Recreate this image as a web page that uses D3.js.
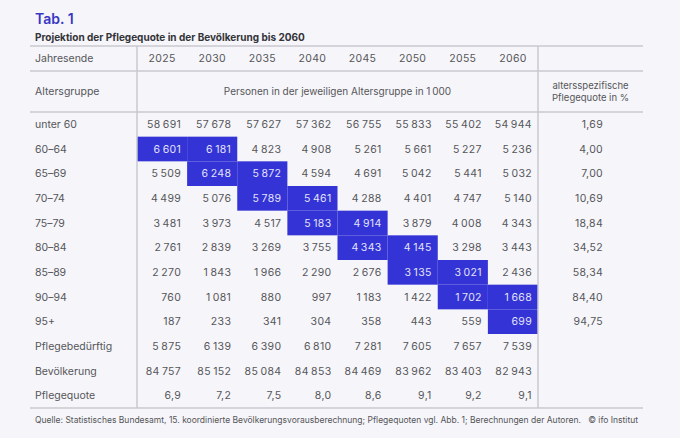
<!DOCTYPE html>
<html>
<head>
<meta charset="utf-8">
<script src="https://cdn.jsdelivr.net/npm/d3@7"></script>
<style>
  body { margin: 0; background: #f5f5fa; }
  svg { display: block; font-family: Inter, "Liberation Sans", sans-serif; }
</style>
</head>
<body>
<svg id="chart" width="680" height="438"></svg>
<script>
// values in 1 000 persons
const years = [2025, 2030, 2035, 2040, 2045, 2050, 2055, 2060];
const ageGroups = ["unter 60", "60–64", "65–69", "70–74", "75–79", "80–84", "85–89", "90–94", "95+"];
const population = [
  [58691, 57678, 57627, 57362, 56755, 55833, 55402, 54944],
  [6601, 6181, 4823, 4908, 5261, 5661, 5227, 5236],
  [5509, 6248, 5872, 4594, 4691, 5042, 5441, 5032],
  [4499, 5076, 5789, 5461, 4288, 4401, 4747, 5140],
  [3481, 3973, 4517, 5183, 4914, 3879, 4008, 4343],
  [2761, 2839, 3269, 3755, 4343, 4145, 3298, 3443],
  [2270, 1843, 1966, 2290, 2676, 3135, 3021, 2436],
  [760, 1081, 880, 997, 1183, 1422, 1702, 1668],
  [187, 233, 341, 304, 358, 443, 559, 699]
];
const careRate = [1.69, 4.00, 7.00, 10.69, 18.84, 34.52, 58.34, 84.40, 94.75];
const careNeeding = [5875, 6139, 6390, 6810, 7281, 7605, 7657, 7539];
const totalPopulation = [84757, 85152, 85084, 84853, 84469, 83962, 83403, 82943];
const careQuota = [6.9, 7.2, 7.5, 8.0, 8.6, 9.1, 9.2, 9.1];
// cohort 60–64 in 2025 moving through the age groups
const highlighted = [
  ["60–64", 2025], ["60–64", 2030], ["65–69", 2030], ["65–69", 2035],
  ["70–74", 2035], ["70–74", 2040], ["75–79", 2040], ["75–79", 2045],
  ["80–84", 2045], ["80–84", 2050], ["85–89", 2050], ["85–89", 2055],
  ["90–94", 2055], ["90–94", 2060], ["95+", 2060]
];

const de = d3.formatLocale({decimal: ",", thousands: "\u2009", grouping: [3], currency: ["", " €"]});
const fInt = de.format(",d");
const f1 = de.format(",.1f");
const f2 = de.format(",.2f");

const rowLabels = [...ageGroups, "Pflegebedürftig", "Bevölkerung", "Pflegequote"];
const rows = [
  ...population.map(d => d.map(fInt)),
  careNeeding.map(fInt),
  totalPopulation.map(fInt),
  careQuota.map(f1)
];

const svg = d3.select("#chart");
const textColor = "#565659";
const lineColor = "#c9c9cf";
const blue = "#3333d6";

const tLeft = 30, tRight = 643, split = 137, rateSplit = 538;
const tTop = 46, headBottom = 71, subBottom = 112, tBottom = 408;

const x = d3.scaleBand().domain(years).range([split, rateSplit]);
const y = d3.scaleBand().domain(rowLabels).range([subBottom, tBottom]);

// title
svg.append("text")
    .attr("x", 35).attr("y", 24)
    .attr("fill", "#3838c4")
    .attr("font-size", 14).attr("font-weight", 600)
    .text("Tab. 1");

svg.append("text")
    .attr("x", 35).attr("y", 41)
    .attr("fill", "#333338")
    .attr("font-size", 10).attr("font-weight", 700)
    .text("Projektion der Pflegequote in der Bevölkerung bis 2060");

// highlighted cohort cells
svg.append("g")
  .selectAll("rect")
  .data(highlighted)
  .join("rect")
    .attr("x", d => x(d[1]))
    .attr("y", d => y(d[0]))
    .attr("width", x.bandwidth())
    .attr("height", y.bandwidth())
    .attr("fill", blue);

// lines
const lines = svg.append("g").attr("stroke", lineColor).attr("stroke-width", 1.5);
[tTop, headBottom, subBottom, tBottom].forEach(v => {
  lines.append("line").attr("x1", tLeft).attr("x2", tRight).attr("y1", v).attr("y2", v);
});
[split, rateSplit].forEach(v => {
  lines.append("line").attr("x1", v).attr("x2", v).attr("y1", tTop).attr("y2", tBottom);
});

const txt = svg.append("g").attr("fill", textColor).attr("font-size", 10.5);

// header
txt.append("text").attr("x", 35).attr("y", (tTop + headBottom) / 2).attr("dy", "0.35em").text("Jahresende");
txt.selectAll(".year")
  .data(years)
  .join("text")
    .attr("class", "year")
    .attr("x", d => x(d) + x.bandwidth() / 2)
    .attr("y", (tTop + headBottom) / 2)
    .attr("dy", "0.35em")
    .attr("text-anchor", "middle")
    .attr("letter-spacing", 0.3)
    .text(d => d);

txt.append("text").attr("x", 35).attr("y", (headBottom + subBottom) / 2).attr("dy", "0.35em").text("Altersgruppe");
txt.append("text")
    .attr("x", (split + rateSplit) / 2)
    .attr("y", (headBottom + subBottom) / 2)
    .attr("dy", "0.35em")
    .attr("text-anchor", "middle")
    .attr("font-size", 10)
    .text("Personen in der jeweiligen Altersgruppe in 1\u2009000");
const rateHead = txt.append("text")
    .attr("x", (rateSplit + tRight) / 2)
    .attr("y", (headBottom + subBottom) / 2)
    .attr("text-anchor", "middle")
    .attr("font-size", 9.5);
rateHead.append("tspan").attr("x", (rateSplit + tRight) / 2).attr("dy", "-0.3em").text("altersspezifische");
rateHead.append("tspan").attr("x", (rateSplit + tRight) / 2).attr("dy", "1.3em").text("Pflegequote in %");

// row labels
txt.selectAll(".label")
  .data(rowLabels)
  .join("text")
    .attr("class", "label")
    .attr("x", 35)
    .attr("y", d => y(d) + y.bandwidth() / 2)
    .attr("dy", "0.35em")
    .text(d => d);

// cells
const hl = new Set(highlighted.map(d => d[0] + "|" + d[1]));
rows.forEach((vals, i) => {
  txt.selectAll(null)
    .data(vals.map((v, j) => ({row: rowLabels[i], year: years[j], v})))
    .join("text")
      .attr("x", d => x(d.year) + x.bandwidth() - 6)
      .attr("y", d => y(d.row) + y.bandwidth() / 2)
      .attr("dy", "0.35em")
      .attr("text-anchor", "end")
      .attr("letter-spacing", 0.35)
      .attr("fill", d => hl.has(d.row + "|" + d.year) ? "#e4e4f8" : textColor)
      .text(d => d.v);
});

// age-specific care rate
txt.selectAll(".rate")
  .data(careRate)
  .join("text")
    .attr("class", "rate")
    .attr("x", 603)
    .attr("y", (d, i) => y(ageGroups[i]) + y.bandwidth() / 2)
    .attr("dy", "0.35em")
    .attr("text-anchor", "end")
    .attr("letter-spacing", 0.3)
    .text(d => f2(d));

// footer
svg.append("text")
    .attr("x", 35).attr("y", 423)
    .attr("fill", textColor).attr("font-size", 8.5)
    .text("Quelle: Statistisches Bundesamt, 15. koordinierte Bevölkerungsvorausberechnung; Pflegequoten vgl. Abb. 1; Berechnungen der Autoren.");
svg.append("text")
    .attr("x", 638).attr("y", 423)
    .attr("text-anchor", "end")
    .attr("fill", textColor).attr("font-size", 8.5)
    .text("© ifo Institut");
</script>
</body>
</html>
